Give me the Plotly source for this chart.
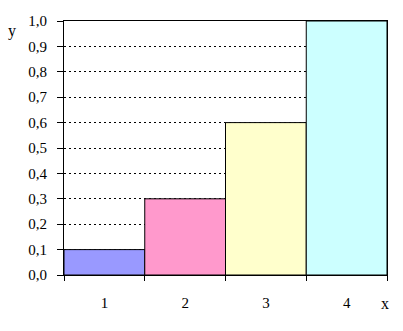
import plotly.graph_objects as go

# Data
categories = [1, 2, 3, 4]
values = [0.1, 0.3, 0.6, 1.0]
bar_colors = ["#9999FF", "#FF99CC", "#FFFFCC", "#CCFFFF"]
y_ticks = [0.0, 0.1, 0.2, 0.3, 0.4, 0.5, 0.6, 0.7, 0.8, 0.9, 1.0]

font_family = "Liberation Serif, Times New Roman, serif"

# Plot-area geometry (pixels)
W, H = 403, 331
ML, MR, MT, MB = 64, 16, 21, 56

fig = go.Figure(
    go.Bar(
        x=categories,
        y=values,
        width=1,
        marker=dict(color=bar_colors, line=dict(color="black", width=1)),
        hoverinfo="x+y",
    )
)


def px_to_paper(px, py):
    return (px - ML) / (W - ML - MR), 1 - (py - MT) / (H - MT - MB)


yx, yy = px_to_paper(12, 31)
xx, xy = px_to_paper(385, 303)

fig.update_layout(
    width=W,
    height=H,
    margin=dict(l=ML, r=MR, t=MT, b=MB),
    paper_bgcolor="white",
    plot_bgcolor="white",
    separators=",.",
    showlegend=False,
    font=dict(family=font_family, size=15, color="black"),
    xaxis=dict(
        range=[0.5, 4.5],
        tickvals=categories,
        ticktext=[str(c) for c in categories],
        ticks="",
        ticklabelstandoff=14,
        showgrid=False,
        zeroline=False,
        showline=True,
        linecolor="black",
        linewidth=1,
        mirror=True,
        minor=dict(ticks="outside", tick0=0.5, dtick=1, ticklen=5,
                   tickcolor="black", showgrid=False),
        fixedrange=True,
    ),
    yaxis=dict(
        range=[0, 1.0],
        tickvals=y_ticks,
        tickformat=".1f",
        ticks="outside",
        ticklen=6,
        tickcolor="black",
        ticklabelstandoff=7,
        showgrid=True,
        gridcolor="black",
        gridwidth=1,
        griddash="2px,3px",
        zeroline=False,
        showline=True,
        linecolor="black",
        linewidth=1,
        mirror=True,
        fixedrange=True,
    ),
    annotations=[
        dict(text="y", x=yx, y=yy, xref="paper", yref="paper", showarrow=False,
             xanchor="center", yanchor="middle", font=dict(size=16)),
        dict(text="x", x=xx, y=xy, xref="paper", yref="paper", showarrow=False,
             xanchor="center", yanchor="middle", font=dict(size=16)),
    ],
)

fig.write_html("out.html", config={"displayModeBar": False})
